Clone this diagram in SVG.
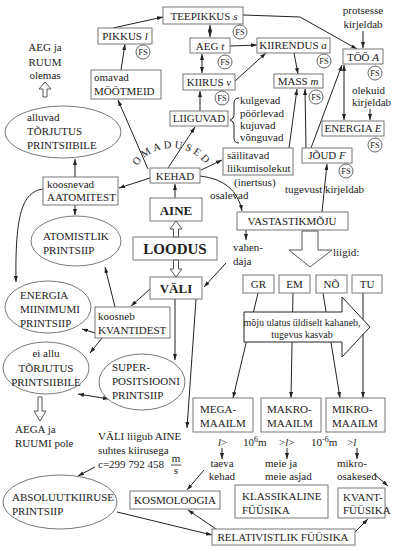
<svg xmlns="http://www.w3.org/2000/svg" width="403" height="547" viewBox="0 0 403 547">
<defs>
<marker id="ah" viewBox="0 0 6 4" refX="6" refY="2" markerWidth="6" markerHeight="4" orient="auto-start-reverse" markerUnits="userSpaceOnUse"><path d="M0,0 L6,2 L0,4 z" fill="#222"/></marker>
<path id="arc" d="M 129,191 A 43 43 0 0 1 215,191" fill="none"/>
</defs>
<style>
text{font-family:"Liberation Serif","DejaVu Serif",serif;font-size:11px;fill:#222}
.c{text-anchor:middle}
.b{fill:#fff;stroke:#777;stroke-width:1}
.e{fill:#fff;stroke:#777;stroke-width:1}
.ln{fill:none;stroke:#222;stroke-width:1;marker-end:url(#ah)}
.dbl{marker-start:url(#ah)}
.fs circle{fill:#fff;stroke:#555;stroke-width:0.9}
.fs text{font-size:8.5px;text-anchor:middle}
.bold{font-weight:bold}
.hol{fill:#fff;stroke:#555;stroke-width:1}
.i{font-style:italic}
.sm{font-size:10px}
</style>
<rect width="403" height="547" fill="#fff"/>

<g id="connectors">
<path class="ln" d="M113,28 L163,17"/>
<path class="ln" d="M121,70 L125,44"/>
<path class="ln" d="M148,169 L118,100"/>
<path class="ln" d="M168,168 L195,127"/>
<path class="ln" d="M200,111 L200,91"/>
<path class="ln dbl" d="M202,54 L202,73"/>
<path class="ln dbl" d="M210,25 L210,37"/>
<path class="ln" d="M230,46 L257,45"/>
<path class="ln" d="M235,81 L266,53"/>
<path class="ln" d="M294,53 L298,74"/>
<path class="ln" d="M243,15 L300,17 L357,49"/>
<path class="ln" d="M363,31 L363,48"/>
<path class="ln dbl" d="M344,65 L344,120"/>
<path class="ln" d="M370,109 L370,120"/>
<path class="ln" d="M289,148 L297,89"/>
<path class="ln" d="M306,148 L305,89"/>
<path class="ln" d="M311,148 L342,65"/>
<path class="ln" d="M322,212 L327,164"/>
<path class="ln" d="M201,170 L222,160"/>
<path class="ln" d="M200,176 Q236,180 242,211"/>
<path class="ln" d="M175,198 L175,184"/>
<path class="ln" d="M150,178 L119,188"/>
<path class="ln" d="M75,177 L75,159"/>
<path class="ln" d="M75,205 L75,215"/>
<path class="ln" d="M43,189 C22,192 15,215 16,282"/>
<path class="ln" d="M246,230 L246,240"/>
<path class="ln" d="M226,263 L204,287"/>
<path class="ln" d="M150,289 L131,306"/>
<path class="ln" d="M175,299 L175,360"/>
<path class="ln" d="M196,299 L187,428"/>
<path class="ln" d="M115,307 L105,267"/>
<path class="ln" d="M95,333 L82,329"/>
<path class="ln" d="M102,338 L90,353"/>
<path class="ln dbl" d="M78,394 L109,399"/>
<path class="ln" d="M95,467 L78,476"/>
<path class="ln" d="M258,293 L233,398"/>
<path class="ln" d="M293,293 L291,398"/>
<path class="ln" d="M323,293 L340,398"/>
<path class="ln" d="M363,293 L363,398"/>
<path class="ln" d="M222,448 L222,459"/>
<path class="ln" d="M287,448 L287,459"/>
<path class="ln" d="M357,448 L357,459"/>
<path class="ln" d="M204,470 L187,490"/>
<path class="ln" d="M374,474 L388,486"/>
<path class="ln" d="M117,512 L212,535"/>
<path class="ln" d="M216,529 L188,510"/>
<path class="ln" d="M355,532 L368,519"/>
</g>

<g id="teepikkus"><rect class="b" x="163" y="7" width="80" height="17"/><text class="c" x="204" y="20">TEEPIKKUS <tspan class="i">s</tspan></text></g>
<g id="fs-teepikkus" class="fs"><circle cx="240" cy="32" r="7"/><text x="240" y="35">FS</text></g>
<g id="pikkus"><rect class="b" x="98" y="28" width="54" height="16"/><text class="c" x="125" y="40">PIKKUS <tspan class="i">l</tspan></text></g>
<g id="fs-pikkus" class="fs"><circle cx="143" cy="52" r="7"/><text x="143" y="55">FS</text></g>
<g id="aeg"><rect class="b" x="190" y="38" width="40" height="15"/><text class="c" x="210" y="50">AEG <tspan class="i">t</tspan></text></g>
<g id="fs-aeg" class="fs"><circle cx="225" cy="62" r="7"/><text x="225" y="65">FS</text></g>
<g id="kiirus"><rect class="b" x="183" y="74" width="52" height="16"/><text class="c" x="209" y="86">KIIRUS <tspan class="i">v</tspan></text></g>
<g id="fs-kiirus" class="fs"><circle cx="222" cy="98" r="7"/><text x="222" y="101">FS</text></g>
<g id="liiguvad"><rect class="b" x="170" y="111" width="58" height="15"/><text class="c" x="199" y="122">LIIGUVAD</text></g>
<g id="liikumised">
<path d="M239,98 Q234,98 234,103 L234,115 Q234,119 230,120 Q234,121 234,125 L234,138 Q234,143 239,143" fill="none" stroke="#222" stroke-width="1"/>
<text x="240" y="104">kulgevad</text><text x="240" y="117">pöörlevad</text><text x="240" y="129">kujuvad</text><text x="240" y="141">võnguvad</text>
</g>
<g id="kiirendus"><rect class="b" x="257" y="38" width="73" height="15"/><text class="c" x="293" y="49">KIIRENDUS <tspan class="i">a</tspan></text></g>
<g id="fs-kiirendus" class="fs"><circle cx="324" cy="61" r="7"/><text x="324" y="64">FS</text></g>
<g id="mass"><rect class="b" x="274" y="74" width="49" height="14"/><text class="c" x="298" y="85">MASS <tspan class="i">m</tspan></text></g>
<g id="fs-mass" class="fs"><circle cx="316" cy="97" r="7"/><text x="316" y="100">FS</text></g>
<g id="too"><rect class="b" x="343" y="49" width="40" height="15"/><text class="c" x="363" y="61">TÖÖ <tspan class="i">A</tspan></text></g>
<g id="fs-too" class="fs"><circle cx="375" cy="73" r="7"/><text x="375" y="76">FS</text></g>
<g id="protsesse"><text class="c" x="363" y="14">protsesse</text><text class="c" x="363" y="28">kirjeldab</text></g>
<g id="olekuid"><text x="352" y="94">olekuid</text><text x="352" y="106">kirjeldab</text></g>
<g id="energia"><rect class="b" x="322" y="121" width="62" height="15"/><text class="c" x="353" y="132">ENERGIA <tspan class="i">E</tspan></text></g>
<g id="fs-energia" class="fs"><circle cx="375" cy="145" r="7"/><text x="375" y="148">FS</text></g>
<g id="joud"><rect class="b" x="302" y="148" width="50" height="15"/><text class="c" x="327" y="159">JÕUD <tspan class="i">F</tspan></text></g>
<g id="fs-joud" class="fs"><circle cx="346" cy="171" r="7"/><text x="346" y="174">FS</text></g>
<g id="sailitavad"><rect class="b" x="223" y="148" width="70" height="27"/><text x="227" y="159">säilitavad</text><text x="227" y="172">liikumisolekut</text></g>
<g id="inertsus"><text x="234" y="186">(inertsus)</text></g>
<g id="tugevust"><text x="285" y="193">tugevust kirjeldab</text></g>
<g id="osalevad"><text x="210" y="199">osalevad</text></g>
<g id="moodud"><rect class="b" x="91" y="70" width="70" height="29"/><text x="94" y="81">omavad</text><text x="94" y="95">MÖÖTMEID</text></g>
<g id="omadused"><text style="font-size:10.5px;letter-spacing:2.8px" text-anchor="middle"><textPath href="#arc" startOffset="50%">OMADUSED</textPath></text></g>
<g id="aeg-ruum"><text class="c" x="45" y="51">AEG ja</text><text class="c" x="45" y="66">RUUM</text><text class="c" x="45" y="79">olemas</text>
<polygon class="hol" points="43,97 47,97 47,89 51,89 45,82 39,89 43,89"/></g>
<g id="alluvad"><ellipse class="e" cx="63" cy="132" rx="58" ry="26"/><text x="27" y="121">alluvad</text><text x="27" y="135">TÕRJUTUS</text><text x="27" y="149">PRINTSIIBILE</text></g>
<g id="kehad"><rect class="b" x="150" y="168" width="50" height="15"/><text class="c" x="175" y="180">KEHAD</text></g>
<g id="aatomitest"><rect class="b" x="43" y="177" width="75" height="28"/><text x="47" y="188">koosnevad</text><text x="47" y="201">AATOMITEST</text></g>
<g id="aine"><rect class="b" x="150" y="198" width="52" height="23"/><text class="c bold" x="176" y="215" style="font-size:13px">AINE</text></g>
<g id="loodus"><rect class="b" x="133" y="237" width="84" height="23"/><text class="c bold" x="175" y="254" style="font-size:15px">LOODUS</text></g>
<g id="vali"><rect class="b" x="150" y="277" width="52" height="22"/><text class="c bold" x="176" y="293" style="font-size:13px">VÄLI</text></g>
<polygon class="hol" points="173.5,237 178.5,237 178.5,229 182,229 176,221 170,229 173.5,229"/>
<polygon class="hol" points="173.5,260 178.5,260 178.5,269 182,269 176,277 170,269 173.5,269"/>
<g id="atomistlik"><ellipse class="e" cx="76" cy="241" rx="45" ry="25"/><text x="43" y="240">ATOMISTLIK</text><text x="43" y="254">PRINTSIIP</text></g>
<g id="vastastikmoju"><rect class="b" x="237" y="212" width="111" height="18"/><text class="c" x="292" y="225">VASTASTIKMÕJU</text></g>
<polygon class="hol" points="302,231 318,231 318,250 332,250 310,267 289,250 302,250"/>
<g id="vahendaja"><text x="233" y="251">vahen-</text><text x="233" y="265">daja</text></g>
<g id="liigid"><text x="333" y="256">liigid:</text></g>
<g id="gr"><rect class="b" x="243" y="275" width="31" height="18"/><text class="c" x="258.5" y="288">GR</text></g>
<g id="em"><rect class="b" x="279" y="275" width="31" height="18"/><text class="c" x="294.5" y="288">EM</text></g>
<g id="no"><rect class="b" x="316" y="275" width="31" height="18"/><text class="c" x="331.5" y="288">NÕ</text></g>
<g id="tu"><rect class="b" x="352" y="275" width="30" height="18"/><text class="c" x="367" y="288">TU</text></g>
<g id="suur-nool"><polygon points="244,312 342,312 342,297 370,327 342,357 342,342 244,342" fill="#fff" stroke="#222" stroke-width="1"/>
<text class="c sm" x="302" y="326">mõju ulatus üldiselt kahaneb,</text><text class="c sm" x="302" y="338">tugevus kasvab</text></g>
<g id="energia-miinimumi"><ellipse class="e" cx="48" cy="307" rx="43" ry="26"/><text x="20" y="299">ENERGIA</text><text x="20" y="313">MIINIMUMI</text><text x="20" y="327">PRINTSIIP</text></g>
<g id="kvantidest"><rect class="b" x="95" y="307" width="75" height="31"/><text x="98" y="320">koosneb</text><text x="98" y="334">KVANTIDEST</text></g>
<g id="ei-allu"><ellipse class="e" cx="46" cy="368" rx="43" ry="26"/><text class="c" x="46" y="357">ei allu</text><text class="c" x="46" y="372">TÕRJUTUS</text><text class="c" x="46" y="386">PRINTSIIBILE</text></g>
<g id="superpositsiooni"><ellipse class="e" cx="142" cy="382" rx="43" ry="28"/><text x="112" y="371">SUPER-</text><text x="112" y="385">POSITSIOONI</text><text x="112" y="399">PRINTSIIP</text></g>
<g id="aega-ruumi"><polygon class="hol" points="38,397 42,397 42,411 46,411 40,421 34,411 38,411"/>
<text x="15" y="433">AEGA ja</text><text x="15" y="447">RUUMI pole</text></g>
<g id="vali-liigub"><text x="98" y="440">VÄLI liigub AINE</text><text x="98" y="454">suhtes kiirusega</text><text x="98" y="468">c=299 792 458</text>
<text class="c" x="176" y="462">m</text><line x1="171" y1="465" x2="181" y2="465" stroke="#222" stroke-width="0.8"/><text class="c" x="176" y="474">s</text></g>
<g id="mega"><rect class="b" x="193" y="398" width="60" height="34"/><text x="200" y="413">MEGA-</text><text x="200" y="427">MAAILM</text></g>
<g id="makro"><rect class="b" x="261" y="398" width="60" height="34"/><text x="267" y="413">MAKRO-</text><text x="267" y="427">MAAILM</text></g>
<g id="mikro"><rect class="b" x="326" y="398" width="59" height="34"/><text x="332" y="413">MIKRO-</text><text x="332" y="427">MAAILM</text></g>
<g id="skaala">
<text x="218" y="446"><tspan class="i">l</tspan>&gt;</text>
<text x="243" y="446">10<tspan dy="-4" font-size="8">6</tspan><tspan dy="4">m</tspan></text>
<text x="279" y="446">&gt;<tspan class="i">l</tspan>&gt;</text>
<text x="311" y="446">10<tspan dy="-4" font-size="8">-6</tspan><tspan dy="4">m</tspan></text>
<text x="347" y="446">&gt;<tspan class="i">l</tspan></text>
</g>
<g id="taeva"><text class="c" x="222" y="467">taeva</text><text class="c" x="222" y="480">kehad</text></g>
<g id="meie"><text x="265" y="467">meie ja</text><text x="265" y="480">meie asjad</text></g>
<g id="mikroosakesed"><text x="337" y="467">mikro-</text><text x="337" y="480">osakesed</text></g>
<g id="absoluut"><ellipse class="e" cx="60" cy="502" rx="57" ry="27"/><text x="12" y="501">ABSOLUUTKIIRUSE</text><text x="12" y="515">PRINTSIIP</text></g>
<g id="kosmoloogia"><rect class="b" x="130" y="491" width="90" height="18"/><text class="c" x="175" y="504">KOSMOLOOGIA</text></g>
<g id="klassikaline"><rect class="b" x="235" y="485" width="93" height="33"/><text x="242" y="500">KLASSIKALINE</text><text x="242" y="514">FÜÜSIKA</text></g>
<g id="kvant"><rect class="b" x="338" y="488" width="47" height="30"/><text x="343" y="501">KVANT-</text><text x="343" y="514">FÜÜSIKA</text></g>
<g id="relativistlik"><rect class="b" x="212" y="529" width="143" height="16"/><text class="c" x="283" y="541">RELATIVISTLIK FÜÜSIKA</text></g>
</svg>
